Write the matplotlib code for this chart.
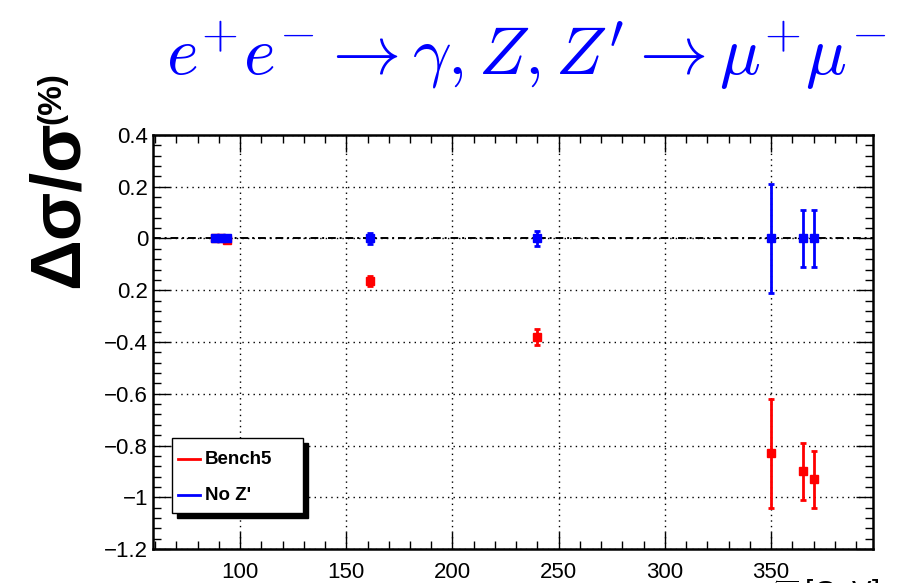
import matplotlib.pyplot as plt
from matplotlib.ticker import MultipleLocator, FixedLocator
from matplotlib.lines import Line2D
import matplotlib.patches as mpatches

# centre-of-mass energies (GeV) and relative cross-section deviations (%)
energies = [88.0, 91.2, 94.0, 161.0, 240.0, 350.0, 365.0, 370.0]
bench5 = [0.003, 0.0, -0.006, -0.165, -0.38, -0.83, -0.90, -0.93]
bench5Err = [0.005, 0.005, 0.005, 0.02, 0.03, 0.21, 0.11, 0.11]
noZp = [0.0, 0.0, 0.0, 0.0, 0.0, 0.0, 0.0, 0.0]
noZpErr = [0.005, 0.005, 0.005, 0.02, 0.03, 0.21, 0.11, 0.11]

yTicks = [0.4, 0.2, 0.0, -0.2, -0.4, -0.6, -0.8, -1.0, -1.2]
yTickLabels = ["0.4", "0.2", "0", "0.2", "\u22120.4", "\u22120.6", "\u22120.8", "\u22121", "\u22121.2"]

plt.rcParams["font.family"] = ["Liberation Sans", "DejaVu Sans"]
plt.rcParams["mathtext.fontset"] = "cm"

W, H = 908, 583
fig = plt.figure(figsize=(W / 100, H / 100), dpi=100)
ax = fig.add_axes([153 / W, 1 - 549 / H, 720 / W, 414 / H])

ax.errorbar(energies, bench5, yerr=bench5Err, fmt="s", color="red", ms=6,
            elinewidth=2, capsize=2, capthick=2, zorder=3)
ax.errorbar(energies, noZp, yerr=noZpErr, fmt="s", color="blue", ms=6,
            elinewidth=2, capsize=2, capthick=2, zorder=4)

ax.axhline(0, color="black", lw=1.4, ls=(0, (4, 2, 1, 2)), zorder=2)

ax.set_xlim(59, 398)
ax.set_ylim(-1.2, 0.4)
ax.xaxis.set_major_locator(MultipleLocator(50))
ax.xaxis.set_minor_locator(MultipleLocator(10))
ax.yaxis.set_major_locator(FixedLocator(yTicks))
ax.set_yticklabels(yTickLabels)
ax.yaxis.set_minor_locator(MultipleLocator(0.04))
ax.tick_params(which="both", direction="in", top=True, right=True, labelsize=16)
ax.tick_params(which="major", length=12, width=1)
ax.tick_params(which="minor", length=6, width=1)
ax.tick_params(axis="x", pad=9)
ax.grid(True, which="major", color="black", ls=(0, (1, 3)), lw=1)
for sp in ax.spines.values():
    sp.set_linewidth(1.8)

# legend: box with drop shadow, drawn in pixel units of the figure
def px(x, y):
    return x / W, 1 - y / H

fig.patches.append(mpatches.Rectangle(px(177, 518), 131 / W, 75 / H,
                                      transform=fig.transFigure, color="black", zorder=10))
fig.patches.append(mpatches.Rectangle(px(172, 513), 131 / W, 75 / H,
                                      transform=fig.transFigure, facecolor="white",
                                      edgecolor="black", lw=1, zorder=11))
for y, col, lab in [(459, "red", "Bench5"), (495, "blue", "No Z'")]:
    x0, yy = px(178, y)
    x1, _ = px(200, y)
    fig.add_artist(Line2D([x0, x1], [yy, yy], color=col, lw=2, transform=fig.transFigure, zorder=12))
    fig.text(px(205, y)[0], yy, lab, fontsize=13.5, fontweight="bold", va="center", ha="left", zorder=12)

fig.text(0.579, 0.905, r"$e^{+}e^{-} \rightarrow \gamma, Z, Z' \rightarrow \mu^{+}\mu^{-}$",
         color="blue", fontsize=49, ha="center", va="center")

fig.text(60 / W, 1 - 288 / H, "\u0394\u03c3/\u03c3", fontsize=51, fontweight="bold",
         rotation=90, ha="center", va="bottom")
fig.text(52 / W, 1 - 124 / H, "(%)", fontsize=24, fontweight="bold",
         rotation=90, ha="center", va="bottom")

fig.text(0.968, 0.01, r"$\sqrt{s}$ [GeV]", fontsize=21, ha="right", va="top")

fig.savefig("out.png", dpi=100)
